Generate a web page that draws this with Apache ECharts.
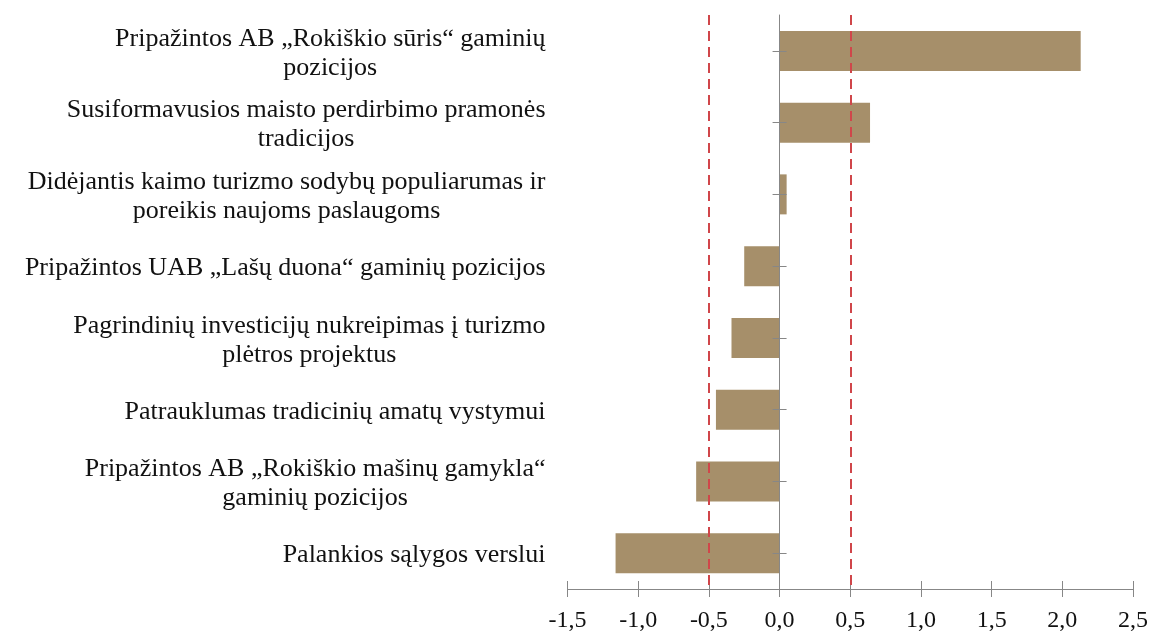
<!DOCTYPE html>
<html>
<head>
<meta charset="utf-8">
<script src="https://cdn.jsdelivr.net/npm/echarts@6/dist/echarts.min.js"></script>
<style>
  html, body { margin: 0; padding: 0; background: #fff; }
  #chart { width: 1152px; height: 632px; }
</style>
</head>
<body>
<div id="chart"></div>
<script>
// categories, top to bottom
const categories = [
  'Pripažintos AB „Rokiškio sūris“ gaminių\npozicijos',
  'Susiformavusios maisto perdirbimo pramonės\ntradicijos',
  'Didėjantis kaimo turizmo sodybų populiarumas ir\nporeikis naujoms paslaugoms',
  'Pripažintos UAB „Lašų duona“ gaminių pozicijos',
  'Pagrindinių investicijų nukreipimas į turizmo\nplėtros projektus',
  'Patrauklumas tradicinių amatų vystymui',
  'Pripažintos AB „Rokiškio mašinų gamykla“\ngaminių pozicijos',
  'Palankios sąlygos verslui'
]
const values = [2.13, 0.64, 0.05, -0.25, -0.34, -0.45, -0.59, -1.16]
const thresholds = [-0.5, 0.5]
const xMin = -1.5
const xMax = 2.5
const xStep = 0.5

const font = "'Liberation Serif', 'Times New Roman', serif"
const axisGray = '#878787'

const chart = echarts.init(document.getElementById('chart'))

const xBase = {
  type: 'value',
  min: xMin,
  max: xMax,
  interval: xStep,
  position: 'bottom',
  splitLine: { show: false }
}

const yBase = {
  type: 'category',
  data: categories,
  inverse: true,
  position: 'left',
  splitLine: { show: false }
}

const option = {
  animation: false,
  backgroundColor: '#fff',
  grid: {
    left: 567.5,
    right: 19,
    top: 15,
    bottom: 43,
    outerBoundsMode: 'none'
  },
  xAxis: [
    {
      ...xBase,
      axisLine: { show: true, onZero: false, lineStyle: { color: axisGray, width: 1 } },
      axisTick: { show: true, inside: false, length: 8, lineStyle: { color: axisGray } },
      axisLabel: {
        color: '#111',
        fontFamily: font,
        fontSize: 24,
        margin: 20,
        formatter: (v) => v.toFixed(1).replace('.', ',')
      }
    },
    {
      ...xBase,
      axisLine: { show: false, onZero: false },
      axisTick: { show: true, inside: true, length: 8, lineStyle: { color: axisGray } },
      axisLabel: { show: false }
    }
  ],
  yAxis: [
    {
      ...yBase,
      axisLine: { show: false, onZero: false },
      axisTick: { show: false },
      axisLabel: {
        margin: 22,
        align: 'right',
        padding: [5, 0, 0, 0],
        formatter: (v) => v.split('\n').map(s => '{c|' + s + '}').join('\n'),
        rich: {
          c: {
            align: 'center',
            fontFamily: font,
            fontSize: 26,
            lineHeight: 29,
            color: '#111'
          }
        }
      }
    },
    {
      ...yBase,
      zlevel: 1,
      axisLine: { show: true, onZero: true, onZeroAxisIndex: 0, lineStyle: { color: axisGray, width: 1 } },
      axisTick: { show: true, inside: false, alignWithLabel: true, length: 7, lineStyle: { color: axisGray } },
      axisLabel: { show: false }
    },
    {
      ...yBase,
      zlevel: 1,
      axisLine: { show: false, onZero: true, onZeroAxisIndex: 0 },
      axisTick: { show: true, inside: true, alignWithLabel: true, length: 7, lineStyle: { color: axisGray } },
      axisLabel: { show: false }
    }
  ],
  series: [
    {
      type: 'bar',
      xAxisIndex: 0,
      yAxisIndex: 0,
      data: values,
      barWidth: 40,
      itemStyle: { color: '#a68f6a' },
      markLine: {
        silent: true,
        symbol: 'none',
        label: { show: false },
        lineStyle: { color: '#d0464a', width: 2, type: [10, 6] },
        data: thresholds.map(t => ({ xAxis: t }))
      }
    }
  ]
}

chart.setOption(option)
</script>
</body>
</html>
